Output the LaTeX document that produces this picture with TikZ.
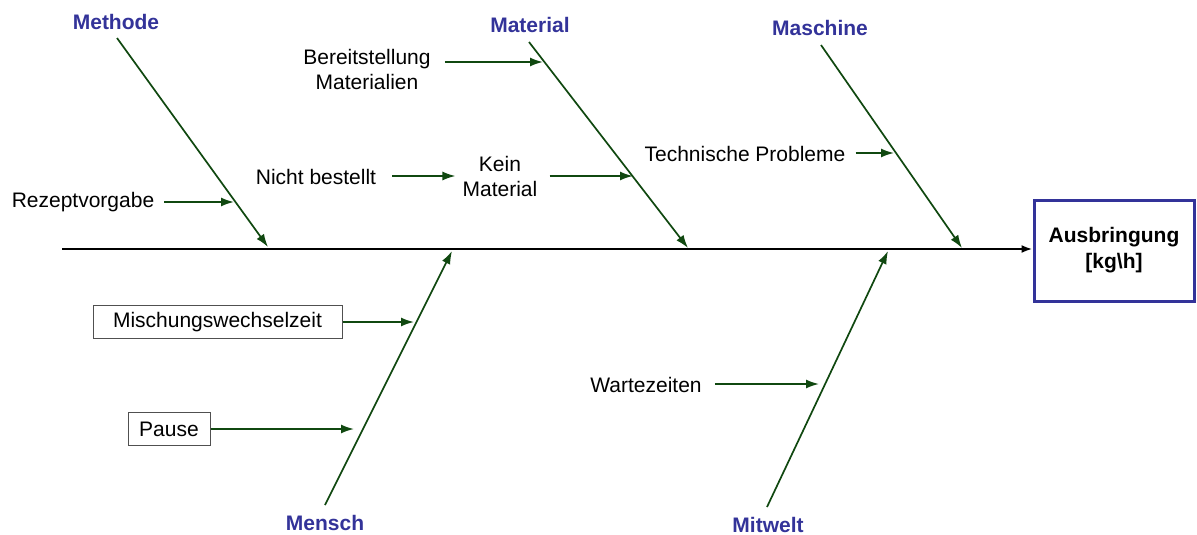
\documentclass[tikz,border=0pt]{standalone}
\usepackage{fontspec}
\setmainfont{Liberation Sans}
\usetikzlibrary{arrows.meta}
\definecolor{branchgreen}{RGB}{16,72,16}
\definecolor{catblue}{RGB}{51,51,153}
\definecolor{boxgray}{RGB}{80,80,80}
\tikzset{
  causetext/.style={font=\fontsize{21}{25}\selectfont, align=center, inner sep=4pt},
  causebox/.style={causetext, draw=boxgray, line width=1pt, minimum height=33pt, inner ysep=2pt},
  category/.style={font=\fontsize{21}{25}\selectfont\bfseries, text=catblue, inner sep=2pt},
  effectbox/.style={draw=catblue, line width=3pt, minimum width=160pt, minimum height=101pt,
    font=\fontsize{21}{26}\selectfont\bfseries, align=center},
  bone/.style={draw=branchgreen, line width=1.7pt, -{Latex[length=13pt,width=9pt]}},
  spine/.style={draw=black, line width=2pt, -{Latex[length=11pt,width=8pt]}},
}
\begin{document}
\begin{tikzpicture}[x=1pt,y=-1pt]
\useasboundingbox (0,0) rectangle (1197,535);

% effect
\node[effectbox] (effect) at (1114,250.5) {Ausbringung\\{[}kg\textbackslash h{]}};
\coordinate (tail) at (62,249);
\draw[spine] (tail) -- (effect.west |- tail);

% main categories
\node[category] (methode)  at (116,22)  {Methode};
\node[category] (material) at (530,25)  {Material};
\node[category] (maschine) at (820,28)  {Maschine};
\node[category] (mensch)   at (325,523) {Mensch};
\node[category] (mitwelt)  at (768,525) {Mitwelt};

% branch ends
\coordinate (mA) at (117,38);  \coordinate (mB) at (268,247);
\coordinate (tA) at (529,42);  \coordinate (tB) at (688,248);
\coordinate (sA) at (821,45);  \coordinate (sB) at (962,248);
\coordinate (pA) at (325,505); \coordinate (pB) at (452,251);
\coordinate (wA) at (767,507); \coordinate (wB) at (888,251);

\draw[bone] (mA) -- (mB);
\draw[bone] (tA) -- (tB);
\draw[bone] (sA) -- (sB);
\draw[bone] (pA) -- (pB);
\draw[bone] (wA) -- (wB);

% sub-causes
\node[causetext] (rezept) at (83,202) {Rezeptvorgabe};
\coordinate (rezeptT) at (234,202);
\draw[bone] ([xshift=6pt]rezept.east) -- (rezeptT);

\node[causetext] (bereit) at (367,69) {Bereitstellung\\Materialien};
\coordinate (bereitT) at (543,62);
\draw[bone] ([xshift=10pt]bereit.east |- bereitT) -- (bereitT);

\node[causetext] (nicht) at (316,177) {Nicht bestellt};
\node[causetext] (kein) at (500,176) {Kein\\Material};
\draw[bone] ([xshift=12pt]nicht.east |- kein.west) -- ([xshift=-3pt]kein.west);
\coordinate (keinT) at (633,176);
\draw[bone] ([xshift=8pt]kein.east) -- (keinT);

\node[causetext] (technik) at (745,154) {Technische Probleme};
\coordinate (technikT) at (894,153);
\draw[bone] ([xshift=6pt]technik.east |- technikT) -- (technikT);

\node[causebox, minimum width=249pt] (mischung) at (217.5,322) {Mischungswechselzeit};
\coordinate (mischungT) at (414,322);
\draw[bone] (mischung.east) -- (mischungT);

\node[causebox, minimum width=82pt] (pause) at (169,429) {Pause};
\coordinate (pauseT) at (354,429);
\draw[bone] (pause.east) -- (pauseT);

\node[causetext] (warte) at (646,385) {Wartezeiten};
\coordinate (warteT) at (819,384);
\draw[bone] ([xshift=9pt]warte.east |- warteT) -- (warteT);
\end{tikzpicture}
\end{document}
